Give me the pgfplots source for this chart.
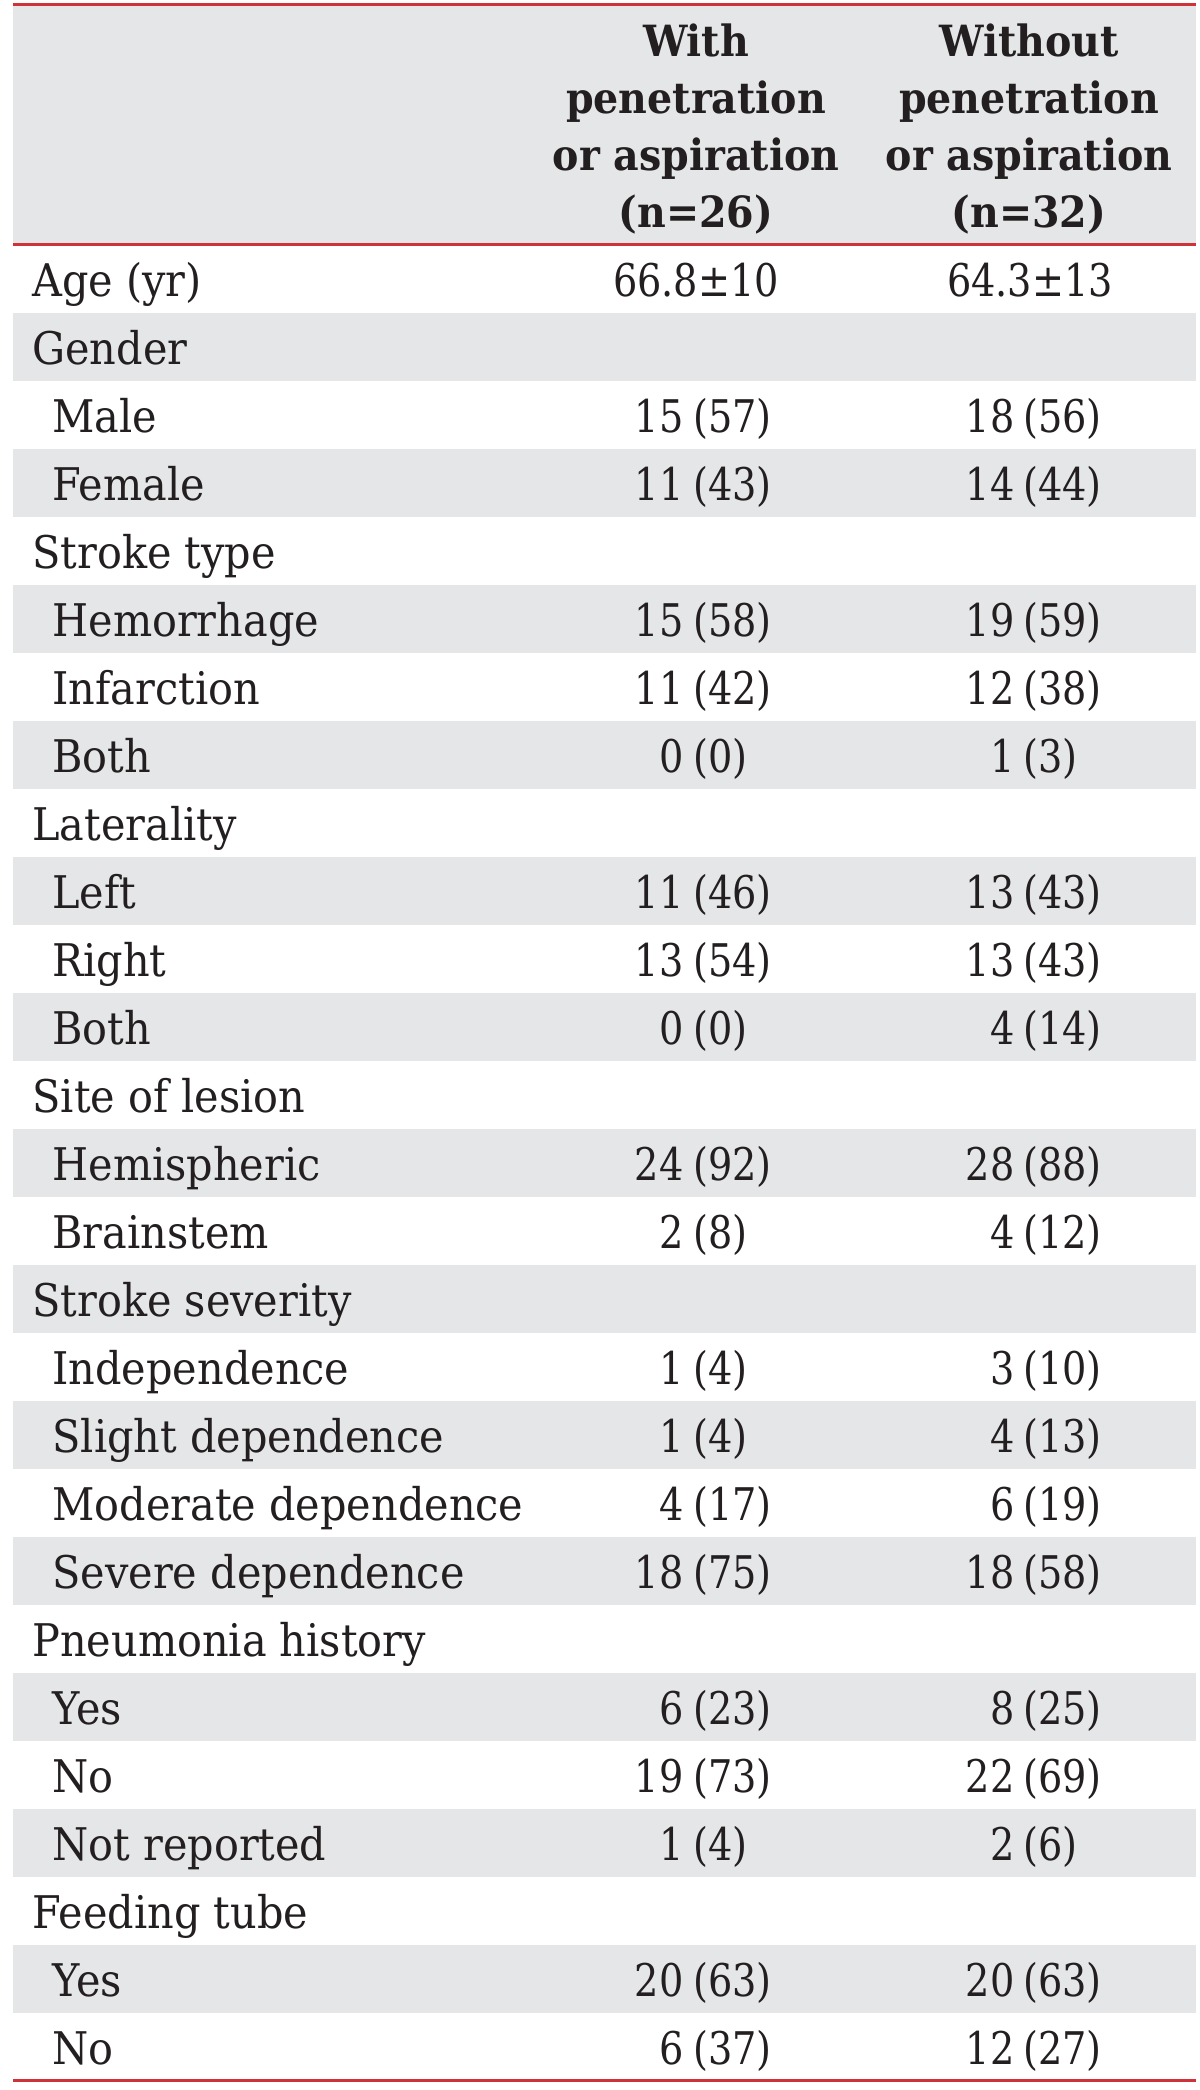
\documentclass[border=0pt]{standalone}
\usepackage{fontspec}
\setmainfont[FakeStretch=0.92]{DejaVu Serif}
\newfontfamily\numfont[FakeStretch=0.85]{DejaVu Serif}
\usepackage{pgfplots}
\pgfplotsset{compat=1.18}
\usepackage{pgfplotstable}
\definecolor{tred}{RGB}{208,50,58}
\definecolor{tgray}{RGB}{229,230,232}
\definecolor{ttext}{RGB}{35,31,32}
\newcommand{\tf}{\fontsize{22.5}{27}\selectfont}

\pgfplotstableread[col sep=comma]{
r,label
0,Age (yr)
1,Gender
4,Stroke type
8,Laterality
12,Site of lesion
15,Stroke severity
20,Pneumonia history
24,Feeding tube
}\cats

\pgfplotstableread[col sep=comma]{
r,label
2,Male
3,Female
5,Hemorrhage
6,Infarction
7,Both
9,Left
10,Right
11,Both
13,Hemispheric
14,Brainstem
16,Independence
17,Slight dependence
18,Moderate dependence
19,Severe dependence
21,Yes
22,No
23,Not reported
25,Yes
26,No
}\subs

\pgfplotstableread[col sep=comma]{
r,n1,p1,n2,p2
2,15,57,18,56
3,11,43,14,44
5,15,58,19,59
6,11,42,12,38
7,0,0,1,3
9,11,46,13,43
10,13,54,13,43
11,0,0,4,14
13,24,92,28,88
14,2,8,4,12
16,1,4,3,10
17,1,4,4,13
18,4,17,6,19
19,18,75,18,58
21,6,23,8,25
22,19,73,22,69
23,1,4,2,6
25,20,63,20,63
26,6,37,12,27
}\vals

\pgfplotstableread[col sep=comma]{
r,a1,a2
0,66.8±10,64.3±13
}\age

\begin{document}
\begin{tikzpicture}
\begin{axis}[
  width=600pt, height=1045pt, scale only axis,
  xmin=0, xmax=1200, ymin=0, ymax=2090, y dir=reverse,
  hide axis, clip=false,
  every axis plot/.append style={draw=none, mark=none},
  nodes near coords style={inner sep=0pt, font=\tf, text=ttext},
]
\path (axis cs:0,0) (axis cs:1200,2090);
% header band
\fill[tgray] (axis cs:13,6) rectangle (axis cs:1196,244);
% striped rows
\fill[tgray] (axis cs:13,313) rectangle (axis cs:1196,381);
\fill[tgray] (axis cs:13,449) rectangle (axis cs:1196,517);
\fill[tgray] (axis cs:13,585) rectangle (axis cs:1196,653);
\fill[tgray] (axis cs:13,721) rectangle (axis cs:1196,789);
\fill[tgray] (axis cs:13,857) rectangle (axis cs:1196,925);
\fill[tgray] (axis cs:13,993) rectangle (axis cs:1196,1061);
\fill[tgray] (axis cs:13,1129) rectangle (axis cs:1196,1197);
\fill[tgray] (axis cs:13,1265) rectangle (axis cs:1196,1333);
\fill[tgray] (axis cs:13,1401) rectangle (axis cs:1196,1469);
\fill[tgray] (axis cs:13,1537) rectangle (axis cs:1196,1605);
\fill[tgray] (axis cs:13,1673) rectangle (axis cs:1196,1741);
\fill[tgray] (axis cs:13,1809) rectangle (axis cs:1196,1877);
\fill[tgray] (axis cs:13,1945) rectangle (axis cs:1196,2013);
% rules
\draw[tred, line width=1.6pt] (axis cs:13,4.5) -- (axis cs:1196,4.5);
\draw[tred, line width=1.1pt] (axis cs:13,244.5) -- (axis cs:1196,244.5);
\draw[tred, line width=1.1pt] (axis cs:13,2080.5) -- (axis cs:1196,2080.5);
% header (anchor base = baseline of last line)
\node[font=\fontsize{21.5}{28.5}\selectfont\bfseries, text=ttext, align=center, anchor=base, inner sep=0pt]
  at (axis cs:696,227) {With\\penetration\\or aspiration\\(n=26)};
\node[font=\fontsize{21.5}{28.5}\selectfont\bfseries, text=ttext, align=center, anchor=base, inner sep=0pt]
  at (axis cs:1029,227) {Without\\penetration\\or aspiration\\(n=32)};
% row labels
\addplot[nodes near coords, point meta=explicit symbolic,
  nodes near coords style={anchor=base west}]
  table[x expr=32, y expr=296+68*\thisrow{r}, meta=label] {\cats};
\addplot[nodes near coords, point meta=explicit symbolic,
  nodes near coords style={anchor=base west}]
  table[x expr=52, y expr=296+68*\thisrow{r}, meta=label] {\subs};
% age
\addplot[nodes near coords, point meta=explicit symbolic,
  nodes near coords style={anchor=base, font=\tf\numfont}]
  table[x expr=696, y expr=296+68*\thisrow{r}, meta=a1] {\age};
\addplot[nodes near coords, point meta=explicit symbolic,
  nodes near coords style={anchor=base, font=\tf\numfont}]
  table[x expr=1030, y expr=296+68*\thisrow{r}, meta=a2] {\age};
% column 1
\addplot[nodes near coords, point meta=explicit symbolic,
  nodes near coords style={anchor=base east, font=\tf\numfont}]
  table[x expr=684, y expr=296+68*\thisrow{r}, meta=n1] {\vals};
\addplot[nodes near coords={(\pgfplotspointmeta)}, point meta=explicit symbolic,
  nodes near coords style={anchor=base west, font=\tf\numfont}]
  table[x expr=693, y expr=296+68*\thisrow{r}, meta=p1] {\vals};
% column 2
\addplot[nodes near coords, point meta=explicit symbolic,
  nodes near coords style={anchor=base east, font=\tf\numfont}]
  table[x expr=1015, y expr=296+68*\thisrow{r}, meta=n2] {\vals};
\addplot[nodes near coords={(\pgfplotspointmeta)}, point meta=explicit symbolic,
  nodes near coords style={anchor=base west, font=\tf\numfont}]
  table[x expr=1023, y expr=296+68*\thisrow{r}, meta=p2] {\vals};
\end{axis}
\end{tikzpicture}
\end{document}
